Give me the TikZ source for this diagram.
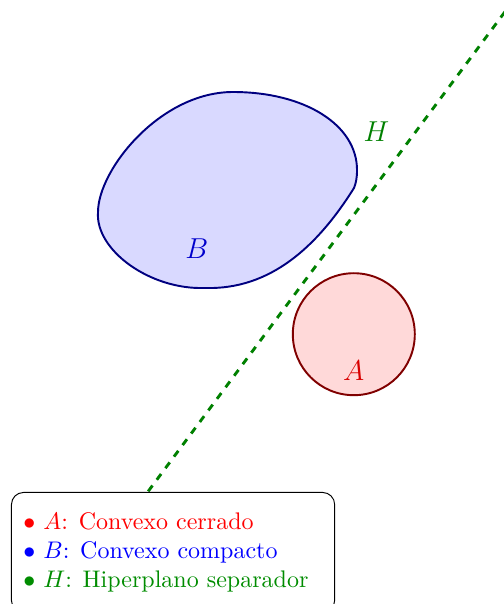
\documentclass[tikz,border=0pt]{standalone}
\usetikzlibrary{positioning}

\begin{document}
\begin{tikzpicture}[>=stealth]
  \useasboundingbox (0,0) rectangle (7.365,8.843);

  % Compact convex set B
  \draw[thick, draw=blue!50!black, fill=blue!15]
    (3.411,7.496) .. controls (4.466,7.496) and (5.227,7.013) .. (5.227,6.354)
    .. controls (5.227,6.237) and (5.212,6.164) .. (5.183,6.091)
    .. controls (4.642,5.226) and (3.950,4.597) .. (3.001,4.627)
    .. controls (2.196,4.597) and (1.391,5.183) .. (1.435,5.739)
    .. controls (1.435,6.354) and (2.343,7.496) .. (3.411,7.496) -- cycle;
  \node[blue!80!black] (labB) at (2.88,5.20) {\large $B$};

  % Closed convex set A
  \coordinate (cA) at (5.18,3.95);
  \draw[thick, draw=red!50!black, fill=red!15] (cA) circle (0.893);
  \node[red!85!black] (labA) at (5.18,3.41) {\large $A$};

  % Separating hyperplane H
  \coordinate (H1) at (2.17,1.65);
  \coordinate (H2) at (7.40,8.68);
  \draw[very thick, dashed, green!50!black] (H1) -- (H2);
  \node[green!50!black] (labH) at (5.51,6.91) {\large $H$};

  % Legend
  \node[draw, rounded corners=5pt, anchor=north west, align=flush left,
        inner xsep=5pt, inner ysep=8.5pt, text width=4.38cm]
    (legend) at (0.161,1.64) {%
      \textcolor{red}{$\bullet$ $A$: Convexo cerrado}\\
      \textcolor{blue}{$\bullet$ $B$: Convexo compacto}\\
      \textcolor{green!55!black}{$\bullet$ $H$: Hiperplano separador}};
\end{tikzpicture}
\end{document}
